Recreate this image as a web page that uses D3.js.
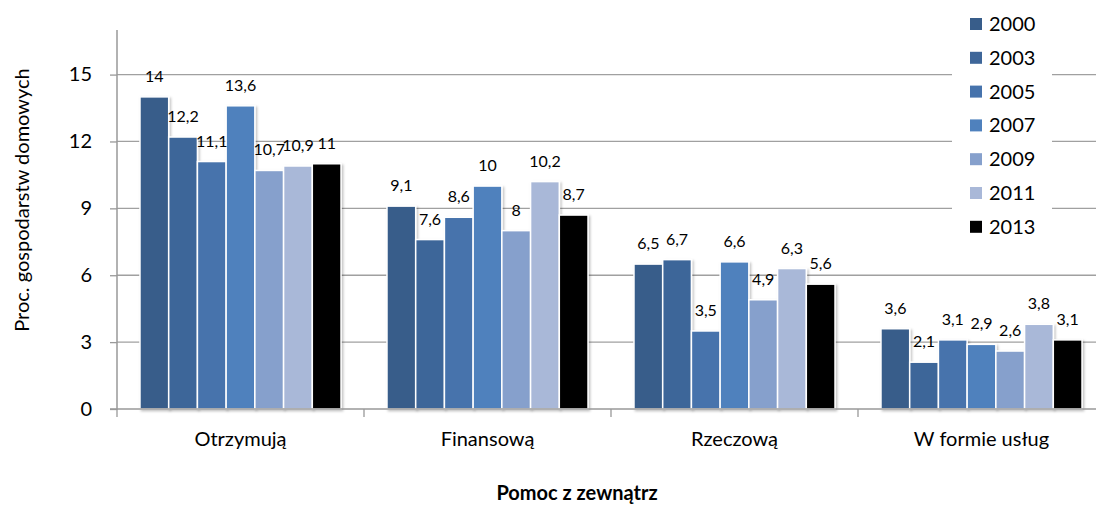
<!DOCTYPE html>
<html><head><meta charset="utf-8">
<script src="https://cdn.jsdelivr.net/npm/d3@7"></script>
<style>
body{margin:0;background:#fff;}
text{font-family:Lato, "Open Sans", sans-serif;fill:#000;}
</style></head>
<body>
<svg id="c" width="1096" height="505"></svg>
<script>
const categories = ["Otrzymują", "Finansową", "Rzeczową", "W formie usług"];
const years = ["2000", "2003", "2005", "2007", "2009", "2011", "2013"];
const values = {
  "2000": [14, 9.1, 6.5, 3.6],
  "2003": [12.2, 7.6, 6.7, 2.1],
  "2005": [11.1, 8.6, 3.5, 3.1],
  "2007": [13.6, 10, 6.6, 2.9],
  "2009": [10.7, 8, 4.9, 2.6],
  "2011": [10.9, 10.2, 6.3, 3.8],
  "2013": [11, 8.7, 5.6, 3.1]
};
const colors = ["#385d8a", "#3e6699", "#4673ac", "#4f81bd", "#86a0cc", "#a9b8d8", "#000000"];
const yTicks = [0, 3, 6, 9, 12, 15];
const yTitle = "Proc. gospodarstw domowych";
const xTitle = "Pomoc z zewnątrz";

const svg = d3.select("#c");
const m = {left: 117, top: 30, right: 1105, bottom: 409};
const y = d3.scaleLinear().domain([0, 17]).range([m.bottom, m.top]);
const x0 = d3.scaleBand().domain(categories).range([m.left, m.right]);
const x1 = d3.scaleBand().domain(years).range([0, x0.bandwidth()]).paddingOuter(0.8);
const col = d3.scaleOrdinal().domain(years).range(colors);
const fmt = v => String(v).replace(".", ",");

// gridlines
svg.append("g").selectAll("line").data(yTicks.filter(d => d > 0)).join("line")
  .attr("x1", m.left).attr("x2", 1096)
  .attr("y1", d => y(d)).attr("y2", d => y(d))
  .attr("stroke", "#a0a0a0").attr("stroke-width", 1.3);

// bars
const defs = svg.append("defs");
const f = defs.append("filter").attr("id", "sh").attr("x", "-20%").attr("y", "-20%").attr("width", "150%").attr("height", "150%");
f.append("feDropShadow").attr("dx", 1.5).attr("dy", 1.5).attr("stdDeviation", 1.2).attr("flood-color", "#000").attr("flood-opacity", 0.25);

const g = svg.append("g");
categories.forEach((c, ci) => {
  years.forEach(yr => {
    const v = values[yr][ci];
    g.append("rect")
      .attr("x", x0(c) + x1(yr))
      .attr("y", y(v))
      .attr("width", x1.bandwidth())
      .attr("height", y(0) - y(v))
      .attr("fill", col(yr))
      .attr("stroke", "#fff").attr("stroke-width", 1.5)
      .attr("filter", "url(#sh)");
  });
});
categories.forEach((c, ci) => {
  years.forEach(yr => {
    const v = values[yr][ci];
    g.append("text")
      .attr("x", x0(c) + x1(yr) + x1.bandwidth() / 2)
      .attr("y", y(v) - 15)
      .attr("text-anchor", "middle")
      .attr("font-size", 16)
      .text(fmt(v));
  });
});

// y axis
const yAxis = d3.axisLeft(y).tickValues(yTicks).tickSize(7).tickPadding(18);
const ya = svg.append("g").attr("transform", `translate(${m.left},0)`).call(yAxis);
ya.select(".domain").attr("stroke", "#999").attr("stroke-width", 1.5).attr("d", `M-7,${m.bottom}H0V${m.top}`);
ya.selectAll(".tick line").attr("stroke", "#999").attr("stroke-width", 1.3);
ya.selectAll(".tick text").attr("font-size", 20).attr("font-family", "Lato");

// x axis
const xa = svg.append("g");
xa.append("line").attr("x1", m.left).attr("x2", 1096).attr("y1", y(0)).attr("y2", y(0))
  .attr("stroke", "#999").attr("stroke-width", 1.5);
xa.selectAll(".tk").data(categories.map(c => x0(c)).concat([x0(categories[3]) + x0.bandwidth()])).join("line")
  .attr("x1", d => d).attr("x2", d => d).attr("y1", y(0)).attr("y2", y(0) + 8)
  .attr("stroke", "#999").attr("stroke-width", 1.3);
xa.selectAll("text").data(categories).join("text")
  .attr("x", d => x0(d) + x0.bandwidth() / 2)
  .attr("y", y(0) + 37)
  .attr("text-anchor", "middle").attr("font-size", 20)
  .text(d => d);

// titles
svg.append("text").attr("transform", "translate(29,200) rotate(-90)")
  .attr("text-anchor", "middle").attr("font-size", 20).text(yTitle);
svg.append("text").attr("x", 577).attr("y", 500)
  .attr("text-anchor", "middle").attr("font-size", 20).attr("font-weight", "bold").text(xTitle);

// legend
const lg = svg.append("g");
lg.append("rect").attr("x", 952).attr("y", 4).attr("width", 100).attr("height", 240).attr("fill", "#fff");
years.forEach((yr, i) => {
  const cy = 24 + i * 33.8;
  lg.append("rect").attr("x", 970).attr("y", cy - 6).attr("width", 12).attr("height", 12).attr("fill", col(yr));
  lg.append("text").attr("x", 989).attr("y", cy + 7).attr("font-size", 20).text(yr);
});
</script>
</body></html>
